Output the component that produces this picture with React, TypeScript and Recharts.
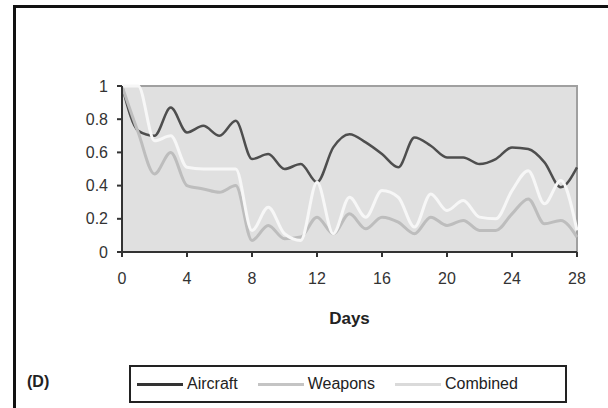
import { Line, LineChart, ReferenceArea, XAxis, YAxis } from "recharts";

const days = [0, 1, 2, 3, 4, 5, 6, 7, 8, 9, 10, 11, 12, 13, 14, 15, 16, 17, 18, 19, 20, 21, 22, 23, 24, 25, 26, 27, 28];

const aircraft = [1.0, 0.73, 0.7, 0.87, 0.72, 0.76, 0.7, 0.79, 0.56, 0.59, 0.5, 0.53, 0.42, 0.63, 0.71, 0.66, 0.59, 0.51, 0.69, 0.64, 0.57, 0.57, 0.53, 0.56, 0.63, 0.62, 0.54, 0.39, 0.51];
const weapons = [1.0, 0.72, 0.47, 0.6, 0.4, 0.38, 0.36, 0.4, 0.07, 0.16, 0.08, 0.09, 0.21, 0.11, 0.23, 0.14, 0.21, 0.18, 0.11, 0.21, 0.16, 0.19, 0.13, 0.13, 0.23, 0.32, 0.17, 0.19, 0.09];
const combined = [1.0, 1.0, 0.67, 0.7, 0.51, 0.5, 0.5, 0.5, 0.13, 0.27, 0.11, 0.07, 0.42, 0.11, 0.33, 0.21, 0.37, 0.33, 0.15, 0.35, 0.25, 0.31, 0.21, 0.2, 0.37, 0.49, 0.29, 0.43, 0.13];

const xTicks = [0, 4, 8, 12, 16, 20, 24, 28];
const yTicks = [0, 0.2, 0.4, 0.6, 0.8, 1];

const series = [
  { key: "aircraft", name: "Aircraft", color: "#4e4e4e", width: 2.5, swatch: "#333" },
  { key: "weapons", name: "Weapons", color: "#bdbdbd", width: 3, swatch: "#c4c4c4" },
  { key: "combined", name: "Combined", color: "#f7f7f7", width: 3, swatch: "#dadada" },
];

const data = days.map((d, i) => ({
  day: d,
  aircraft: aircraft[i],
  weapons: weapons[i],
  combined: combined[i],
}));

const font = "'Liberation Sans', Arial, sans-serif";

function LegendBox() {
  return (
    <div
      style={{
        position: "absolute",
        left: 129,
        top: 365,
        width: 434,
        height: 34,
        border: "2px solid #222",
        display: "flex",
        alignItems: "center",
        fontFamily: font,
        fontSize: 16,
        color: "#222",
      }}
    >
      {series.map((s, i) => (
        <div key={s.key} style={{ display: "flex", alignItems: "center", marginLeft: i === 0 ? 6 : 20 }}>
          <div style={{ width: 46, height: 3, background: s.swatch, marginRight: 4 }} />
          <span>{s.name}</span>
        </div>
      ))}
    </div>
  );
}

export default function App() {
  return (
    <div style={{ position: "absolute", left: 0, top: 0, width: 608, height: 408, background: "#fff", overflow: "hidden" }}>
      <div
        style={{
          position: "absolute",
          left: 13,
          top: 5,
          width: 592,
          height: 400,
          borderLeft: "3px solid #111",
          borderTop: "3px solid #111",
          borderBottom: "1px solid #ccc",
        }}
      />
      <div
        style={{
          position: "absolute",
          left: 27,
          top: 373,
          fontFamily: font,
          fontSize: 16,
          fontWeight: "bold",
          color: "#222",
        }}
      >
        (D)
      </div>
      <div style={{ position: "absolute", left: 0, top: 0 }}>
        <LineChart width={608} height={408} data={data} margin={{ top: 86, right: 31, bottom: 86, left: 62 }}>
          <ReferenceArea x1={0} x2={28} y1={0} y2={1} fill="#e0e0e0" fillOpacity={1} stroke="#a0a0a0" strokeWidth={2} />
          <XAxis
            dataKey="day"
            type="number"
            domain={[0, 28]}
            ticks={xTicks}
            height={70}
            tickSize={5}
            tickMargin={16}
            stroke="#333"
            strokeWidth={2}
            tick={{ fill: "#333", fontSize: 16, fontFamily: font }}
            label={{ value: "Days", position: "insideTop", offset: 60, fill: "#222", fontSize: 17, fontWeight: "bold", fontFamily: font }}
          />
          <YAxis
            type="number"
            domain={[0, 1]}
            ticks={yTicks}
            width={60}
            tickSize={5}
            tickMargin={9}
            stroke="#333"
            strokeWidth={2}
            tick={{ fill: "#333", fontSize: 16, fontFamily: font }}
            tickFormatter={(v: number) => (v === 0 || v === 1 ? String(v) : v.toFixed(1))}
          />
          {series.map((s) => (
            <Line
              key={s.key}
              type="monotone"
              dataKey={s.key}
              name={s.name}
              stroke={s.color}
              strokeWidth={s.width}
              dot={false}
              isAnimationActive={false}
            />
          ))}
        </LineChart>
      </div>
      <LegendBox />
    </div>
  );
}
